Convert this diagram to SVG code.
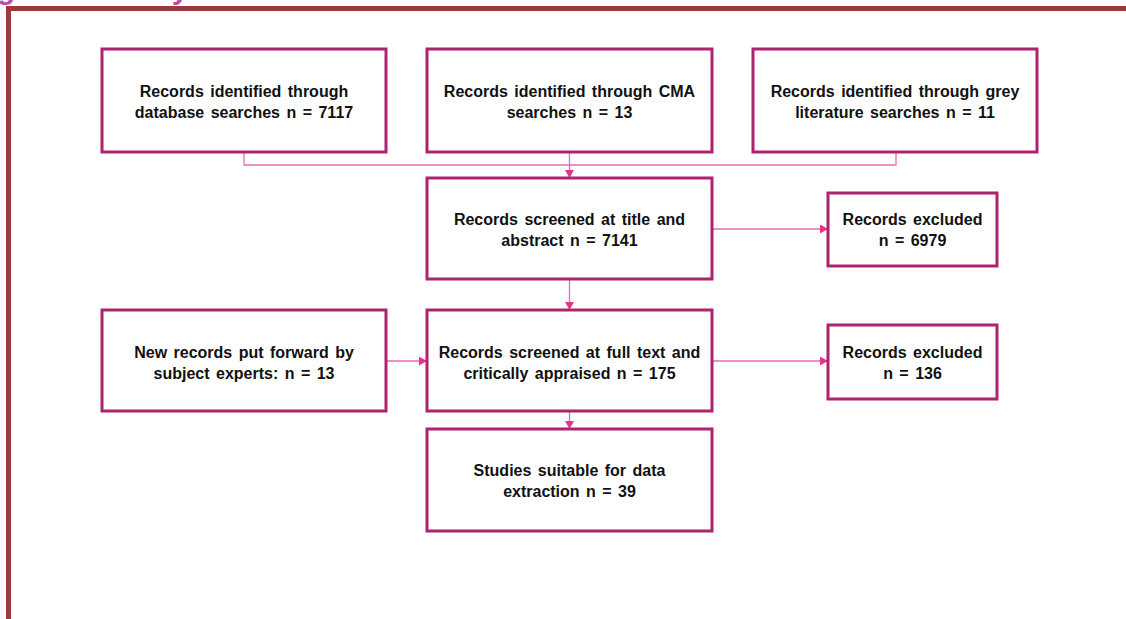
<svg xmlns="http://www.w3.org/2000/svg" width="1126" height="619" viewBox="0 0 1126 619">
<defs>
<style>
.box{fill:#fff;stroke:#AE2370;stroke-width:3}
.t{font-family:"Liberation Sans",Arial,sans-serif;font-weight:bold;font-size:16px;fill:#111;text-anchor:middle;word-spacing:2px}
.c{fill:none;stroke:#EE6AAE;stroke-width:1.3}
.title{font-family:"Liberation Sans",Arial,sans-serif;font-weight:bold;font-size:30px;fill:#B84BAE}
</style>
<marker id="arr" markerUnits="userSpaceOnUse" markerWidth="9" markerHeight="9" refX="8" refY="4.5" orient="auto">
<path d="M0,0 L8,4.5 L0,9 Z" fill="#E8338E"/>
</marker>
</defs>
<rect width="1126" height="619" fill="#fff"/>
<text class="title" x="-30" y="-1">Figure 1: Study flow chart</text>
<path d="M8.5,619 V8.5 H1126" fill="none" stroke="#9C3A3A" stroke-width="5"/>

<g id="connectors">
<path class="c" d="M244,152 V165 H896 V152"/>
<path class="c" d="M569.5,152 V178" marker-end="url(#arr)"/>
<path class="c" d="M712,229 H828" marker-end="url(#arr)"/>
<path class="c" d="M569.5,279 V310" marker-end="url(#arr)"/>
<path class="c" d="M386,361 H427" marker-end="url(#arr)"/>
<path class="c" d="M712,361 H828" marker-end="url(#arr)"/>
<path class="c" d="M569.5,411 V429" marker-end="url(#arr)"/>
</g>

<g id="db">
<rect class="box" x="102" y="49" width="284" height="103"/>
<text class="t" x="244" y="97">Records identified through</text>
<text class="t" x="244" y="118">database searches n = 7117</text>
</g>
<g id="cma">
<rect class="box" x="427" y="49" width="285" height="103"/>
<text class="t" x="569.5" y="97">Records identified through CMA</text>
<text class="t" x="569.5" y="118">searches n = 13</text>
</g>
<g id="grey">
<rect class="box" x="753" y="49" width="284" height="103"/>
<text class="t" x="895" y="97">Records identified through grey</text>
<text class="t" x="895" y="118">literature searches n = 11</text>
</g>
<g id="screen1">
<rect class="box" x="427" y="178" width="285" height="101"/>
<text class="t" x="569.5" y="225">Records screened at title and</text>
<text class="t" x="569.5" y="246">abstract n = 7141</text>
</g>
<g id="excl1">
<rect class="box" x="828" y="193" width="169" height="73"/>
<text class="t" x="912.5" y="225">Records excluded</text>
<text class="t" x="912.5" y="246">n = 6979</text>
</g>
<g id="experts">
<rect class="box" x="102" y="310" width="284" height="101"/>
<text class="t" x="244" y="358">New records put forward by</text>
<text class="t" x="244" y="379">subject experts: n = 13</text>
</g>
<g id="screen2">
<rect class="box" x="427" y="310" width="285" height="101"/>
<text class="t" x="569.5" y="358">Records screened at full text and</text>
<text class="t" x="569.5" y="379">critically appraised n = 175</text>
</g>
<g id="excl2">
<rect class="box" x="828" y="325" width="169" height="74"/>
<text class="t" x="912.5" y="358">Records excluded</text>
<text class="t" x="912.5" y="379">n = 136</text>
</g>
<g id="studies">
<rect class="box" x="427" y="429" width="285" height="102"/>
<text class="t" x="569.5" y="476">Studies suitable for data</text>
<text class="t" x="569.5" y="497">extraction n = 39</text>
</g>
</svg>
